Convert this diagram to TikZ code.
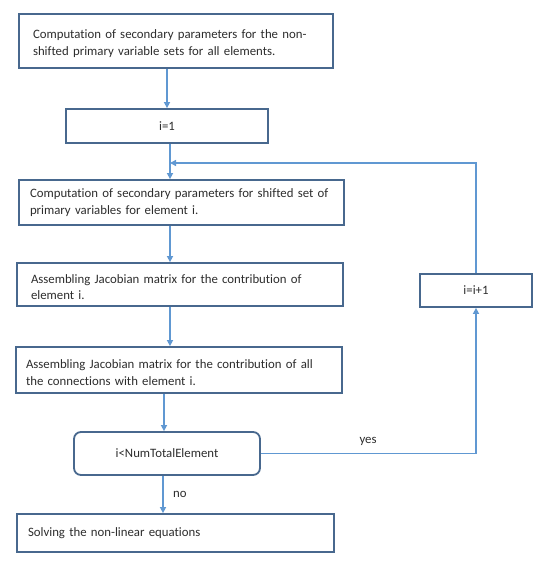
\documentclass[tikz,border=0pt]{standalone}
\usepackage{fontspec}
\setmainfont{Carlito}[Ligatures=NoCommon]
\usetikzlibrary{arrows.meta}
\definecolor{boxline}{RGB}{72,104,142}
\definecolor{arrline}{RGB}{96,152,210}
\definecolor{txt}{RGB}{45,45,45}
\begin{document}
\begin{tikzpicture}[x=1pt,y=-1pt,
  box/.style={draw=boxline, line width=1.8pt, fill=white, font=\fontsize{12.8}{16.5}\selectfont, text=txt, align=left, inner ysep=0pt},
  lbl/.style={font=\fontsize{12.8}{14}\selectfont, text=txt},
  arr/.style={draw=arrline, line width=1.5pt, -{Triangle[length=6pt,width=6pt]}},
  ln/.style={draw=arrline, line width=1.5pt}
]
\useasboundingbox (0,0) rectangle (538,569);
\fill[white] (0,0) rectangle (538,569);

\node[box, minimum width=314pt, minimum height=54pt, text width=286pt, inner xsep=14pt] (b1) at (176,41)
  {\rule{0pt}{14pt}\mbox{Computation of secondary parameters for the non-}\\\mbox{shifted primary variable sets for all elements.}};
\node[box, minimum width=202pt, minimum height=34pt, align=center] (b2) at (167,126) {i=1};
\node[box, minimum width=325pt, minimum height=45pt, text width=303pt, inner xsep=11pt] (b3) at (181.5,202.5)
  {\mbox{Computation of secondary parameters for shifted set of}\\\mbox{primary variables for element i.}};
\node[box, minimum width=326pt, minimum height=43pt, text width=298pt, inner xsep=14pt] (b4) at (180,284.5)
  {\rule{0pt}{14pt}\mbox{Assembling Jacobian matrix for the contribution of}\\\mbox{element i.}};
\node[box, minimum width=326pt, minimum height=46pt, text width=306pt, inner xsep=10pt] (b5) at (179,370)
  {\rule{0pt}{14pt}\mbox{Assembling Jacobian matrix for the contribution of all}\\\mbox{the connections with element i.}};
\node[box, rounded corners=7pt, minimum width=186pt, minimum height=43pt, align=center] (b6) at (167,453.5) {i<NumTotalElement};
\node[box, minimum width=317pt, minimum height=38pt, text width=295pt, inner xsep=11pt] (b7) at (175.5,533)
  {Solving the non-linear equations};
\node[box, minimum width=112pt, minimum height=33pt, align=center] (b8) at (476,290.5) {i=i+1};

\coordinate (join) at (170,163);

\draw[arr] (b2.north |- b1.south) -- (b2.north);
\draw[arr] ([xshift=3pt]b2.south) -- ([xshift=3pt]b2.south |- b3.north);
\draw[ln] (b8.north) -- (b8.north |- join) -- ([xshift=-1pt]join -| b8.north);
\draw[arr] (b8.north |- join) -- (join);
\draw[arr] (join |- b3.south) -- (join |- b4.north);
\draw[arr] (join |- b4.south) -- (join |- b5.north);
\draw[arr] ([xshift=-3pt]b6.north |- b5.south) -- ([xshift=-3pt]b6.north);
\draw[arr] ([xshift=-4pt]b6.south) -- ([xshift=-4pt]b6.south |- b7.north) node[midway, right=6pt, lbl] (no) {no};
\draw[arr] (b6.east) -- (b8.south |- b6.east) -- (b8.south);
\node[lbl] (yes) at (368,441) {yes};
\end{tikzpicture}
\end{document}
